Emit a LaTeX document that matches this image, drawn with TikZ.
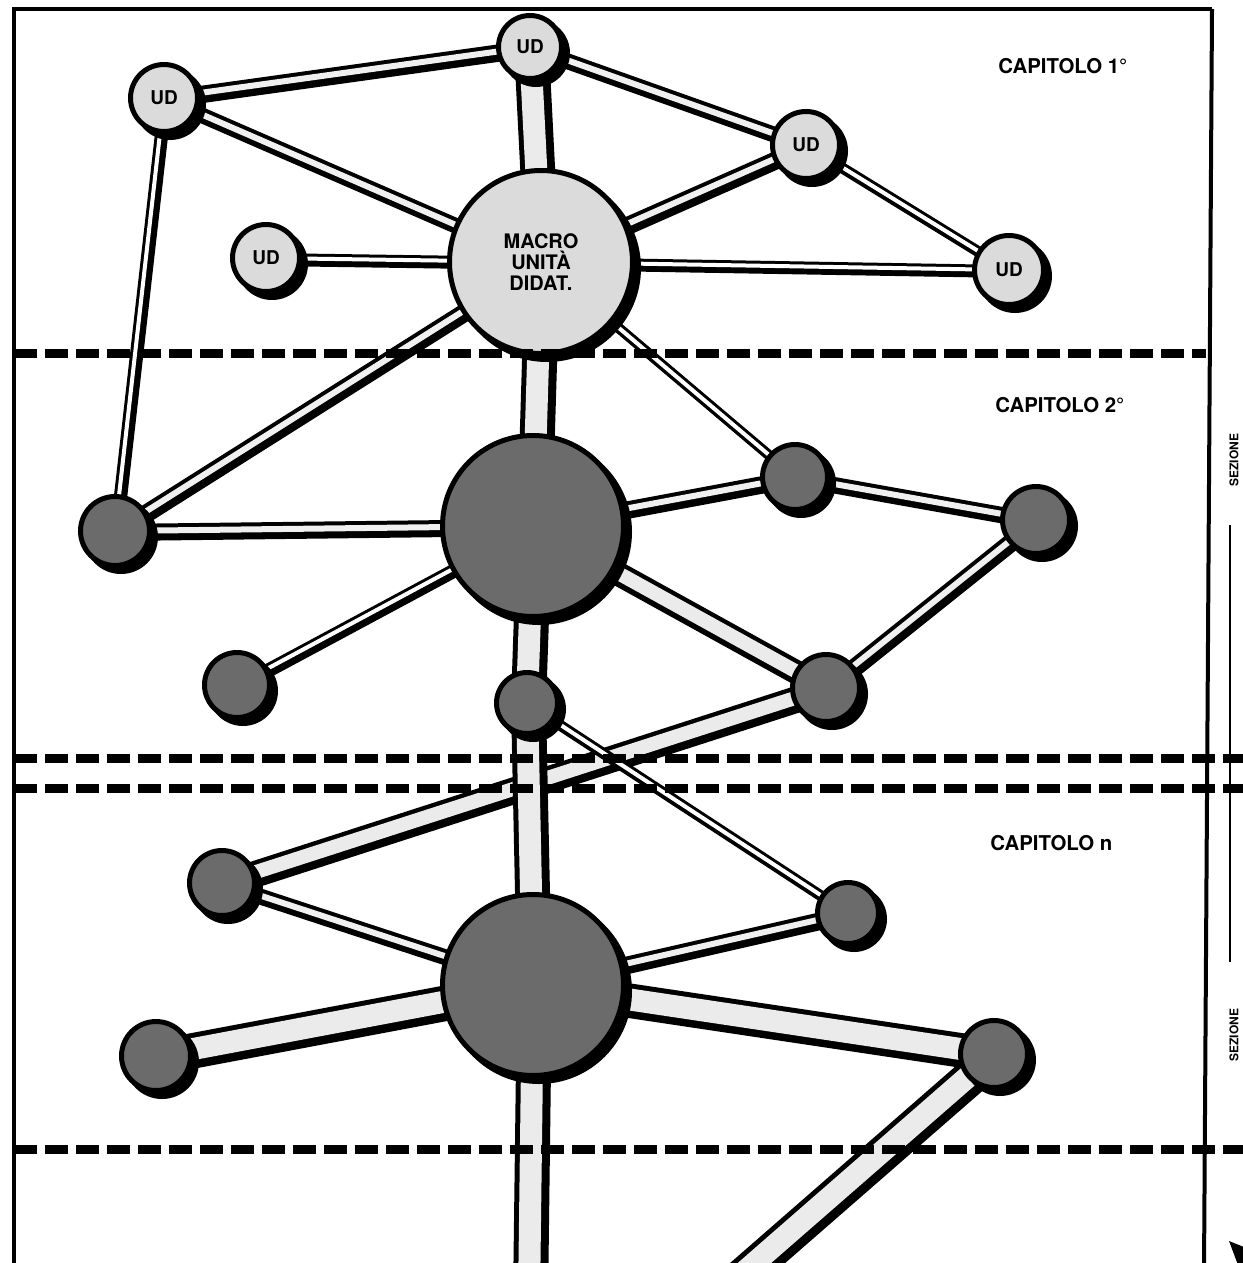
\documentclass[tikz,border=0pt]{standalone}
\usepackage{fontspec}
\setmainfont{TeX Gyre Heros}
\usetikzlibrary{shadows}
\pgfdeclarelayer{back}
\pgfsetlayers{back,main}
\newcommand\tubeline[3]{%
  \draw[#1,double=black,transform canvas={shift={(1.5pt,-1.5pt)}}] (#2.center) -- (#3.center);
  \draw[#1] (#2.center) -- (#3.center);}
\begin{document}
\begin{tikzpicture}[x=0.5pt,y=-0.5pt,
  nd/.style={circle, draw=black, line width=2.5pt, inner sep=0pt, text=black,
    font=\fontsize{9.5}{10}\selectfont\bfseries,
    drop shadow={shadow xshift=3pt, shadow yshift=-3pt, fill=black, draw=black, line width=2.5pt, opacity=1}},
  lnd/.style={nd, fill=black!14},
  dnd/.style={nd, fill=black!58},
  tubeL/.style={draw=black, line width=2.5pt, double=black!8, double distance=11pt},
  tubeK/.style={draw=black, line width=2.2pt, double=black!8, double distance=7pt},
  tubeM/.style={draw=black, line width=2pt, double=black!6, double distance=3pt},
  tubeS/.style={draw=black, line width=1.5pt, double=white, double distance=2pt},
  dashline/.style={line width=4.5pt, dash pattern=on 11.5pt off 4pt},
  frame/.style={line width=2pt},
  lab/.style={inner sep=0pt, anchor=west, font=\fontsize{10.2}{12}\selectfont\bfseries}]
\useasboundingbox (0,0) rectangle (1242,1263);

% nodes
\node[lnd, minimum size=33.5pt] (ud1) at (164,98) {UD};
\node[lnd, minimum size=31.5pt] (ud2) at (530,47) {UD};
\node[lnd, minimum size=33.5pt] (ud3) at (806,145) {UD};
\node[lnd, minimum size=34.5pt] (ud4) at (1009,270) {UD};
\node[lnd, minimum size=33.5pt] (ud5) at (266,258) {UD};
\node[lnd, minimum size=91.5pt, align=center, font=\fontsize{10}{10.5}\selectfont\bfseries] (macro) at (541,262) {MACRO\\UNITÀ\\DIDAT.};

\node[dnd, minimum size=90.5pt] (c2big) at (533,526) {};
\node[dnd, minimum size=32.5pt] (c2a) at (795,477) {};
\node[dnd, minimum size=33.5pt] (c2b) at (1036,520) {};
\node[dnd, minimum size=34.5pt] (c2c) at (115,531) {};
\node[dnd, minimum size=32.5pt] (c2d) at (237,685) {};
\node[dnd, minimum size=33.5pt] (c2e) at (826,688) {};
\node[dnd, minimum size=30.5pt] (c2f) at (527,703) {};

\node[dnd, minimum size=90.5pt] (cnbig) at (533,985) {};
\node[dnd, minimum size=32.5pt] (cna) at (222,883) {};
\node[dnd, minimum size=30.5pt] (cnb) at (848,913) {};
\node[dnd, minimum size=34.5pt] (cnc) at (156,1056) {};
\node[dnd, minimum size=33.5pt] (cnd) at (994,1054) {};
\coordinate (endA) at (529,1300);
\coordinate (endB) at (712,1300);

% connectors
\begin{pgfonlayer}{back}
\fill[white] (0,0) rectangle (1242,1263);
\tubeline{tubeM}{ud1}{ud2}
\tubeline{tubeM}{ud1}{macro}
\tubeline{tubeS}{ud1}{c2c}
\tubeline{tubeL}{ud2}{macro}
\tubeline{tubeM}{ud2}{ud3}
\tubeline{tubeM}{ud3}{macro}
\tubeline{tubeS}{ud3}{ud4}
\tubeline{tubeS}{ud5}{macro}
\tubeline{tubeS}{macro}{ud4}
\tubeline{tubeM}{macro}{c2c}
\tubeline{tubeS}{macro}{c2a}
\tubeline{tubeL}{macro}{c2big}
\tubeline{tubeM}{c2big}{c2c}
\tubeline{tubeM}{c2big}{c2a}
\tubeline{tubeM}{c2a}{c2b}
\tubeline{tubeM}{c2b}{c2e}
\tubeline{tubeK}{c2big}{c2e}
\tubeline{tubeS}{c2big}{c2d}
\tubeline{tubeL}{c2big}{c2f}
\tubeline{tubeK}{c2e}{cna}
\tubeline{tubeS}{c2f}{cnb}
\tubeline{tubeL}{c2f}{cnbig}
\tubeline{tubeM}{cnbig}{cna}
\tubeline{tubeM}{cnbig}{cnb}
\tubeline{tubeL}{cnbig}{cnc}
\tubeline{tubeL}{cnbig}{cnd}
\tubeline{tubeL}{cnbig}{endA}
\tubeline{tubeL}{cnd}{endB}
\end{pgfonlayer}

% frame
\coordinate (fTL) at (14,9);
\coordinate (fBL) at (14,1270);
\coordinate (fTR) at (1212,9);
\coordinate (fBR) at (1204,1270);
\draw[frame] (fBL) -- (fTL) -- (fTR);
\draw[frame] (fTR) -- (fBR);
\coordinate (v1) at (1230,525);
\coordinate (v2) at (1230,962);
\draw[line width=0.8pt] (v1) -- (v2);

% dashed chapter separators
\coordinate (d1s) at (14,353);  \coordinate (d1e) at (1206,353);
\coordinate (d2s) at (14,758);  \coordinate (d2e) at (1250,758);
\coordinate (d3s) at (14,788);  \coordinate (d3e) at (1250,788);
\coordinate (d4s) at (14,1149); \coordinate (d4e) at (1250,1149);
\draw[dashline] (d1s) -- (d1e);
\draw[dashline] (d2s) -- (d2e);
\draw[dashline] (d3s) -- (d3e);
\draw[dashline] (d4s) -- (d4e);

% labels
\node[lab] (cap1) at (998,66) {CAPITOLO 1°};
\node[lab] (cap2) at (995,405) {CAPITOLO 2°};
\node[lab] (capn) at (990,843) {CAPITOLO n};

% side texts
\node[rotate=90, anchor=north, inner sep=0pt, font=\fontsize{6}{6}\selectfont\bfseries] (sez1) at (1229,460) {SEZIONE};
\node[rotate=90, anchor=north, inner sep=0pt, font=\fontsize{6}{6}\selectfont\bfseries] (sez2) at (1229,1035) {SEZIONE};
\fill (1229,1241) -- (1244,1247) -- (1244,1265) -- (1238,1265) -- cycle;
\end{tikzpicture}
\end{document}
